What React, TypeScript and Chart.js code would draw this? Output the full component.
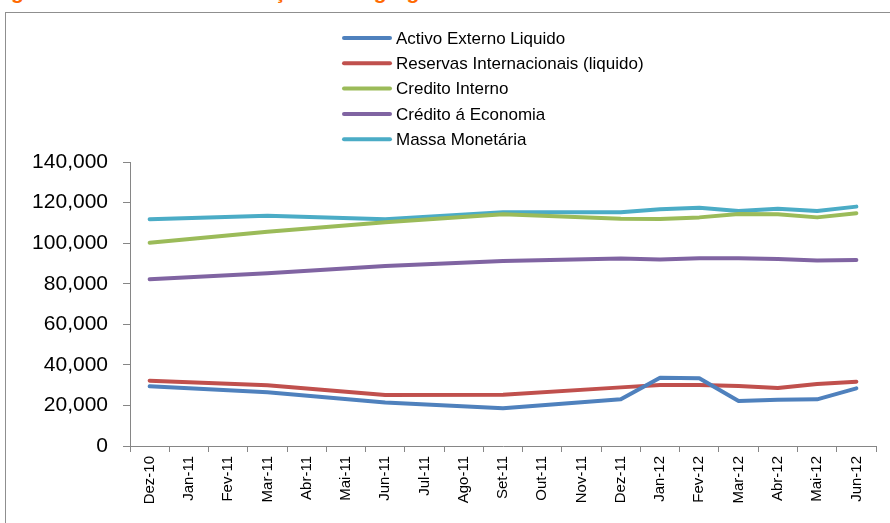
import React, { useEffect, useRef } from "react";
import { Chart, registerables } from "chart.js";

Chart.register(...registerables);

const months = [
  "Dez-10", "Jan-11", "Fev-11", "Mar-11", "Abr-11", "Mai-11", "Jun-11", "Jul-11",
  "Ago-11", "Set-11", "Out-11", "Nov-11", "Dez-11", "Jan-12", "Fev-12", "Mar-12",
  "Abr-12", "Mai-12", "Jun-12",
];

const activoExterno = [29400, null, null, 26500, null, null, 21400, null, null, 18600, null, null, 23000, 33700, 33400, 22200, 22800, 23000, 28400];
const reservasInternacionais = [32200, null, null, 29900, null, null, 25100, null, null, 25300, null, null, 28900, 30100, 30100, 29600, 28600, 30600, 31700];
const creditoInterno = [100200, null, null, 105600, null, null, 110300, null, null, 114200, null, null, 112000, 111900, 112700, 114400, 114200, 112700, 114700];
const creditoEconomia = [82200, null, null, 85100, null, null, 88700, null, null, 91200, null, null, 92400, 91900, 92600, 92600, 92200, 91500, 91700];
const massaMonetaria = [111800, null, null, 113500, null, null, 111800, null, null, 115200, null, null, 115200, 116700, 117500, 115900, 117000, 115900, 118000];

const seriesNames = [
  "Activo Externo Liquido",
  "Reservas Internacionais (liquido)",
  "Credito Interno",
  "Crédito á Economia",
  "Massa Monetária",
];

const yMin = 0;
const yMax = 140000;
const yStep = 20000;

const FONT = '"Liberation Sans", Arial, sans-serif';

const legendPlugin = {
  id: "verticalLegend",
  afterDraw(chart: any) {
    const ctx = chart.ctx;
    ctx.save();
    chart.data.datasets.forEach((ds: any, i: number) => {
      const y = 38 + i * 25.3;
      ctx.strokeStyle = ds.borderColor;
      ctx.lineWidth = 4;
      ctx.lineCap = "round";
      ctx.beginPath();
      ctx.moveTo(344, y);
      ctx.lineTo(390, y);
      ctx.stroke();
      ctx.fillStyle = "#000";
      ctx.font = "17px " + FONT;
      ctx.textBaseline = "middle";
      ctx.textAlign = "left";
      ctx.fillText(ds.label, 396, y + 1);
    });
    ctx.restore();
  },
};

export default function App() {
  const ref = useRef<HTMLCanvasElement | null>(null);

  useEffect(() => {
    if (!ref.current) return;
    const colors = ["#4F81BD", "#C0504D", "#9BBB59", "#8064A2", "#4BACC6"];
    const values = [activoExterno, reservasInternacionais, creditoInterno, creditoEconomia, massaMonetaria];
    const chart = new Chart(ref.current, {
      type: "line",
      data: {
        labels: months,
        datasets: values.map((v, i) => ({
          label: seriesNames[i],
          data: v,
          borderColor: colors[i],
          backgroundColor: colors[i],
          borderWidth: 4,
          pointRadius: 0,
          tension: 0,
          spanGaps: true,
          borderJoinStyle: "round" as const,
          borderCapStyle: "round" as const,
        })),
      },
      options: {
        animation: false,
        responsive: false,
        maintainAspectRatio: false,
        layout: { padding: { left: 0, top: 162, right: 14, bottom: 0 } },
        plugins: {
          legend: { display: false },
          tooltip: { enabled: false },
          title: { display: false },
        },
        scales: {
          x: {
            type: "category",
            offset: true,
            grid: {
              display: true,
              drawOnChartArea: false,
              drawTicks: true,
              tickLength: 6,
              offset: true,
              color: "#868686",
            },
            border: { display: true, color: "#868686", width: 1 },
            ticks: {
              color: "#000",
              font: { family: FONT, size: 15 },
              minRotation: 90,
              maxRotation: 90,
              autoSkip: false,
              padding: 4,
            },
            afterFit(scale: any) {
              scale.height = 77;
            },
          },
          y: {
            min: yMin,
            max: yMax,
            grid: {
              display: true,
              drawOnChartArea: false,
              drawTicks: true,
              tickLength: 7,
              color: "#868686",
            },
            border: { display: true, color: "#868686", width: 1 },
            ticks: {
              stepSize: yStep,
              color: "#000",
              font: { family: FONT, size: 21 },
              padding: 15,
              callback: (v: any) => Number(v).toLocaleString("en-US"),
            },
            afterFit(scale: any) {
              scale.width = 130;
            },
          },
        },
      },
      plugins: [legendPlugin],
    });
    return () => chart.destroy();
  }, []);

  return (
    <div
      style={{
        position: "absolute",
        left: 0,
        top: 0,
        width: 890,
        height: 523,
        overflow: "hidden",
        background: "#fff",
      }}
    >
      <div
        style={{
          position: "absolute",
          left: 0,
          top: -20,
          width: 890,
          height: 22,
          overflow: "visible",
          color: "#FF6A00",
          fontFamily: FONT,
          fontWeight: "bold",
          fontSize: 21,
          whiteSpace: "nowrap",
        }}
      >
        <span style={{ position: "absolute", left: 11, top: 0 }}>gráfico 5:</span>
        <span style={{ position: "absolute", left: 217, top: 0 }}>
          Evolução dos Agregados Monetários e Financeiros
        </span>
      </div>
      <div
        style={{
          position: "absolute",
          left: 5,
          top: 12,
          width: 900,
          height: 520,
          border: "1px solid #8f8f8f",
          boxSizing: "border-box",
        }}
      />
      <canvas
        ref={ref}
        width={890}
        height={523}
        style={{ position: "absolute", left: 0, top: 0, width: 890, height: 523 }}
      />
    </div>
  );
}
